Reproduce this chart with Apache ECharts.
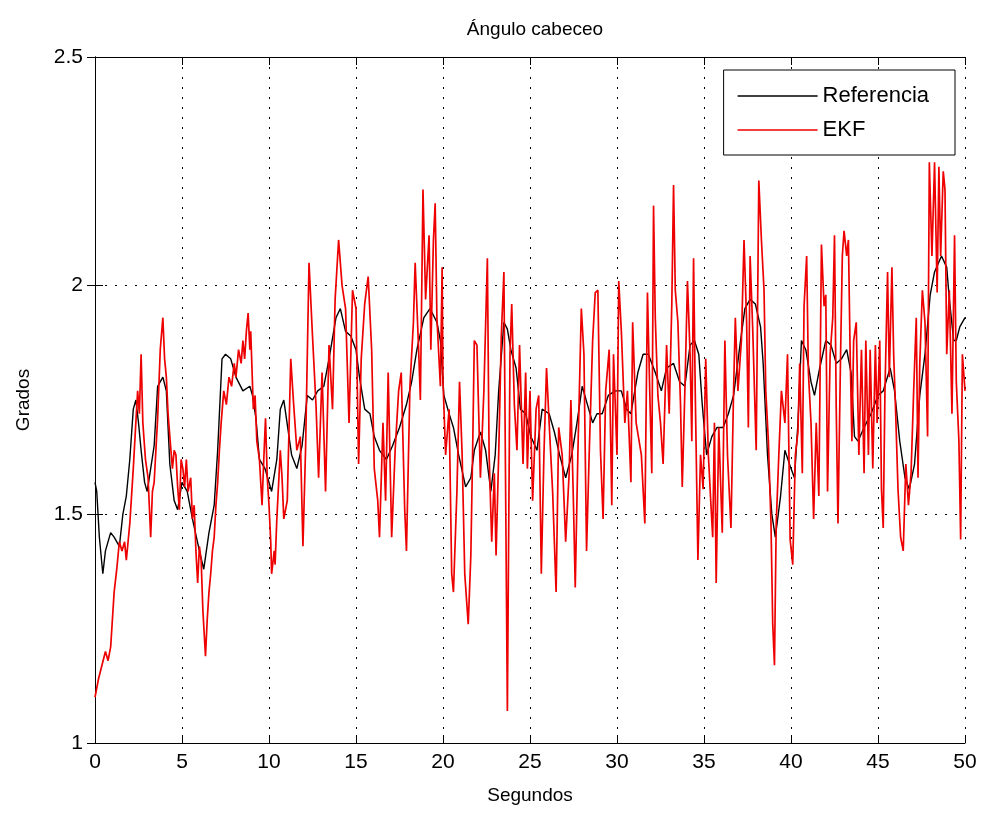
<!DOCTYPE html>
<html>
<head>
<meta charset="utf-8">
<script src="https://cdn.jsdelivr.net/npm/echarts@6/dist/echarts.min.js"></script>
<style>
html,body{margin:0;padding:0;background:#fff;}
#c{width:985px;height:814px;}
</style>
</head>
<body>
<div id="c"></div>
<script>
// ---- data ----
const titleText = 'Ángulo cabeceo';
const xName = 'Segundos';
const yName = 'Grados';
const seriesNames = ['Referencia', 'EKF'];

const refT = [0.0,0.1,0.25,0.45,0.6,0.9,1.1,1.4,1.6,1.8,2.0,2.2,2.35,2.5,2.65,2.85,3.0,3.2,3.4,3.6,3.9,4.1,4.3,4.55,4.75,5.0,5.3,5.6,6.0,6.25,6.55,6.85,7.05,7.3,7.5,7.8,8.1,8.5,8.9,9.05,9.25,9.45,9.77,10.15,10.45,10.65,10.85,11.0,11.3,11.6,11.9,12.2,12.5,12.8,13.15,13.45,13.85,14.1,14.4,14.7,15.0,15.2,15.5,15.8,16.05,16.35,16.75,17.1,17.5,17.9,18.2,18.5,18.9,19.25,19.65,19.85,20.05,20.35,20.6,20.9,21.3,21.6,21.8,22.15,22.45,22.75,23.0,23.2,23.5,23.7,23.9,24.2,24.45,24.75,25.05,25.4,25.7,26.1,26.4,26.7,27.05,27.4,27.7,28.0,28.3,28.6,28.85,29.15,29.5,29.9,30.25,30.55,30.8,31.2,31.5,31.8,32.2,32.55,32.85,33.25,33.6,33.9,34.2,34.45,34.7,34.9,35.15,35.45,35.75,36.1,36.4,36.7,37.1,37.35,37.65,37.95,38.25,38.4,38.65,38.9,39.1,39.4,39.65,40.0,40.2,40.4,40.6,40.85,41.15,41.35,41.65,42.0,42.3,42.6,42.9,43.2,43.45,43.65,43.85,44.2,44.6,45.0,45.3,45.7,45.95,46.25,46.55,46.8,47.1,47.4,47.7,48.0,48.25,48.65,48.95,49.1,49.35,49.5,49.7,50.0];
const refV = [1.57,1.55,1.45,1.37,1.42,1.46,1.45,1.43,1.50,1.54,1.62,1.73,1.75,1.70,1.64,1.57,1.55,1.60,1.65,1.78,1.80,1.77,1.61,1.53,1.51,1.57,1.55,1.49,1.42,1.38,1.46,1.52,1.64,1.84,1.85,1.84,1.80,1.77,1.78,1.76,1.71,1.62,1.60,1.55,1.62,1.73,1.75,1.71,1.63,1.60,1.65,1.76,1.75,1.77,1.78,1.84,1.93,1.95,1.90,1.89,1.86,1.80,1.73,1.72,1.67,1.64,1.62,1.65,1.69,1.74,1.79,1.86,1.93,1.95,1.92,1.88,1.76,1.72,1.69,1.63,1.56,1.58,1.64,1.68,1.64,1.55,1.63,1.77,1.92,1.905,1.86,1.82,1.73,1.72,1.67,1.64,1.73,1.72,1.68,1.63,1.58,1.63,1.70,1.78,1.74,1.70,1.72,1.72,1.76,1.77,1.77,1.73,1.72,1.81,1.85,1.85,1.81,1.77,1.82,1.83,1.79,1.78,1.87,1.88,1.85,1.74,1.63,1.67,1.69,1.69,1.72,1.76,1.88,1.95,1.97,1.96,1.91,1.83,1.63,1.50,1.45,1.54,1.64,1.60,1.58,1.70,1.88,1.86,1.79,1.76,1.82,1.88,1.87,1.83,1.84,1.86,1.81,1.67,1.66,1.69,1.72,1.76,1.77,1.82,1.77,1.66,1.58,1.555,1.61,1.76,1.85,1.98,2.03,2.065,2.04,1.97,1.88,1.88,1.91,1.93];

const ekfT = [0.0,0.2,0.4,0.6,0.75,0.9,1.1,1.25,1.4,1.55,1.7,1.8,2.0,2.2,2.45,2.55,2.65,2.75,2.9,3.05,3.2,3.3,3.4,3.5,3.6,3.75,3.9,4.0,4.1,4.2,4.3,4.45,4.55,4.65,4.75,4.85,4.95,5.05,5.15,5.25,5.35,5.5,5.6,5.7,5.8,5.9,6.0,6.1,6.2,6.35,6.45,6.55,6.65,6.75,6.85,6.95,7.05,7.15,7.25,7.4,7.55,7.7,7.85,8.0,8.1,8.25,8.4,8.5,8.6,8.7,8.8,8.9,8.95,9.1,9.2,9.3,9.45,9.6,9.7,9.8,9.9,
10.0,10.1,10.15,10.3,10.35,10.45,10.65,10.75,10.85,11.05,11.25,11.4,11.6,11.8,11.95,12.1,12.3,12.5,12.7,12.85,13.05,13.25,13.45,13.65,13.8,14.0,14.2,14.4,14.6,14.8,15.0,15.15,15.3,15.5,15.7,15.9,16.05,16.25,16.35,16.55,16.7,16.85,17.05,17.25,17.45,17.6,17.8,17.9,18.1,18.3,18.4,18.6,18.7,18.85,19.0,19.2,19.3,19.45,19.55,19.65,19.85,19.95,
20.0,20.15,20.35,20.5,20.6,20.8,20.95,21.1,21.25,21.45,21.6,21.7,21.8,21.95,22.15,22.35,22.55,22.65,22.8,22.95,23.05,23.2,23.35,23.5,23.7,23.85,23.95,24.1,24.25,24.4,24.6,24.75,24.85,25.0,25.15,25.35,25.5,25.65,25.8,25.95,26.1,26.3,26.5,26.65,26.85,27.05,27.25,27.35,27.5,27.6,27.75,27.95,28.1,28.25,28.4,28.6,28.75,28.9,29.05,29.2,29.35,29.55,29.7,29.8,
30.0,30.1,30.25,30.45,30.6,30.8,30.9,31.1,31.4,31.6,31.75,31.9,32.0,32.1,32.2,32.35,32.5,32.65,32.85,33.0,33.15,33.25,33.35,33.5,33.65,33.75,33.9,34.05,34.2,34.3,34.4,34.5,34.65,34.8,34.95,35.1,35.25,35.4,35.5,35.6,35.7,35.85,36.05,36.2,36.35,36.55,36.7,36.8,36.95,37.15,37.3,37.45,37.55,37.65,37.8,38.0,38.15,38.3,38.45,38.55,38.7,38.85,38.95,39.05,39.15,39.3,39.45,39.65,39.8,
39.95,40.1,40.25,40.4,40.5,40.65,40.75,40.9,41.0,41.15,41.3,41.45,41.6,41.75,41.9,42.0,42.1,42.25,42.4,42.5,42.6,42.7,42.85,42.95,43.05,43.2,43.3,43.4,43.5,43.6,43.75,43.9,44.05,44.2,44.3,44.45,44.55,44.7,44.85,44.95,45.1,45.2,45.3,45.4,45.55,45.65,45.8,45.9,46.0,46.15,46.3,46.45,46.6,46.75,46.9,47.05,47.2,47.3,47.4,47.55,47.7,47.85,47.95,48.1,48.25,48.4,48.5,48.6,48.75,48.85,48.95,49.1,49.25,49.4,49.5,49.65,49.75,49.85,50.0];
const ekfV = [1.10,1.14,1.17,1.20,1.18,1.21,1.33,1.38,1.44,1.42,1.44,1.40,1.48,1.60,1.77,1.72,1.85,1.70,1.62,1.58,1.45,1.55,1.57,1.64,1.71,1.86,1.93,1.84,1.80,1.72,1.67,1.60,1.64,1.63,1.56,1.51,1.62,1.60,1.56,1.62,1.55,1.58,1.49,1.52,1.42,1.35,1.43,1.40,1.29,1.19,1.27,1.33,1.37,1.42,1.45,1.52,1.57,1.64,1.70,1.77,1.74,1.80,1.78,1.83,1.80,1.86,1.83,1.88,1.84,1.90,1.94,1.86,1.90,1.73,1.76,1.66,1.62,1.52,1.62,1.71,1.58,
1.52,1.44,1.37,1.42,1.39,1.49,1.64,1.58,1.49,1.53,1.84,1.75,1.64,1.67,1.43,1.64,2.05,1.89,1.74,1.58,1.81,1.55,1.87,1.73,1.97,2.10,2.00,1.95,1.70,1.99,1.95,1.61,1.84,1.96,2.02,1.86,1.60,1.53,1.45,1.70,1.53,1.81,1.45,1.64,1.77,1.81,1.51,1.42,1.78,1.92,2.05,1.86,1.75,2.21,1.97,2.11,1.86,2.10,2.18,1.93,1.78,2.04,
1.79,1.63,1.73,1.37,1.33,1.55,1.79,1.63,1.37,1.26,1.41,1.63,1.88,1.87,1.58,1.77,2.06,1.63,1.44,1.59,1.41,1.63,1.89,2.03,1.07,1.85,1.96,1.74,1.64,1.87,1.61,1.81,1.60,1.77,1.53,1.73,1.76,1.37,1.63,1.82,1.70,1.55,1.33,1.69,1.63,1.44,1.59,1.75,1.52,1.34,1.63,1.95,1.85,1.42,1.63,1.88,1.985,1.99,1.64,1.49,1.77,1.86,1.52,1.85,
1.63,2.01,1.90,1.70,1.77,1.57,1.92,1.70,1.63,1.48,1.985,1.74,1.59,2.175,1.93,1.76,1.70,1.61,1.87,1.72,1.96,2.22,1.99,1.92,1.74,1.56,1.77,2.01,1.85,1.66,2.06,1.76,1.40,1.63,1.555,1.84,1.63,1.52,1.45,1.70,1.35,1.69,1.46,1.88,1.63,1.47,1.77,1.93,1.77,1.88,2.10,1.92,1.69,2.065,1.905,1.64,2.23,2.10,1.99,1.77,1.66,1.48,1.26,1.17,1.48,1.63,1.77,1.70,1.85,
1.445,1.39,1.63,1.68,1.83,1.59,1.955,2.065,1.81,1.70,1.49,1.70,1.54,2.09,1.955,1.98,1.55,1.85,1.93,2.11,1.73,1.48,1.85,2.065,2.12,2.065,2.10,1.85,1.66,1.88,1.92,1.63,1.86,1.59,1.88,1.63,1.86,1.60,1.87,1.70,1.88,1.555,1.47,1.77,2.03,1.80,2.04,1.85,1.74,1.555,1.45,1.42,1.61,1.52,1.59,1.77,1.93,1.58,1.83,1.99,1.92,1.67,2.27,2.065,2.27,1.985,2.26,2.065,2.25,2.21,1.85,1.99,1.72,2.11,1.79,1.66,1.445,1.85,1.77];

const xMin = 0, xMax = 50, xStep = 5;
const yMin = 1, yMax = 2.5, yStep = 0.5;

// ---- chart ----
const FONT = '"Liberation Sans", Arial, sans-serif';
const pairs = (t, v) => t.map((x, i) => [x, v[i]]);
const axisCommon = {
  axisLine: {show: true, lineStyle: {color: '#000', width: 1}},
  axisTick: {show: true, inside: true, length: 8, lineStyle: {color: '#000'}},
};
const chart = echarts.init(document.getElementById('c'), null, {renderer: 'canvas'});
chart.setOption({
  animation: false,
  backgroundColor: '#fff',
  title: {
    text: titleText, left: 530, top: 15, textAlign: 'center',
    textStyle: {fontFamily: FONT, fontSize: 19, fontWeight: 'normal', color: '#000'}
  },
  grid: {left: 95, right: 20, top: 57, bottom: 71, containLabel: false},
  legend: {
    data: seriesNames, orient: 'vertical', right: 30, top: 70,
    icon: 'rect', itemWidth: 80, itemHeight: 1.5, itemGap: 12,
    padding: [15, 26, 14, 14],
    borderColor: '#000', borderWidth: 1, backgroundColor: '#fff',
    textStyle: {fontFamily: FONT, fontSize: 22, color: '#000'}
  },
  xAxis: [
    Object.assign({
      type: 'value', min: xMin, max: xMax, interval: xStep, position: 'bottom',
      name: xName, nameLocation: 'middle', nameGap: 43,
      nameTextStyle: {fontFamily: FONT, fontSize: 19, color: '#000'},
      axisLabel: {fontFamily: FONT, fontSize: 21, color: '#000', margin: 9},
      splitLine: {show: true, lineStyle: {color: '#000', type: [2, 8], width: 1}}
    }, axisCommon),
    Object.assign({
      type: 'value', min: xMin, max: xMax, interval: xStep, position: 'top',
      axisLabel: {show: false}, splitLine: {show: false}
    }, axisCommon)
  ],
  yAxis: [
    Object.assign({
      type: 'value', min: yMin, max: yMax, interval: yStep, position: 'left',
      name: yName, nameLocation: 'middle', nameGap: 62,
      nameTextStyle: {fontFamily: FONT, fontSize: 19, color: '#000'},
      axisLabel: {fontFamily: FONT, fontSize: 21, color: '#000', margin: 12},
      splitLine: {show: true, lineStyle: {color: '#000', type: [2, 8], width: 1}}
    }, axisCommon),
    Object.assign({
      type: 'value', min: yMin, max: yMax, interval: yStep, position: 'right',
      axisLabel: {show: false}, splitLine: {show: false}
    }, axisCommon)
  ],
  series: [
    {
      name: seriesNames[0], type: 'line', data: pairs(refT, refV),
      showSymbol: false, symbol: 'none', color: '#000',
      lineStyle: {color: '#000', width: 1.4}, z: 2
    },
    {
      name: seriesNames[1], type: 'line', data: pairs(ekfT, ekfV),
      showSymbol: false, symbol: 'none', color: '#ee0000',
      lineStyle: {color: '#ee0000', width: 1.7}, z: 3
    }
  ]
});
</script>
</body>
</html>
